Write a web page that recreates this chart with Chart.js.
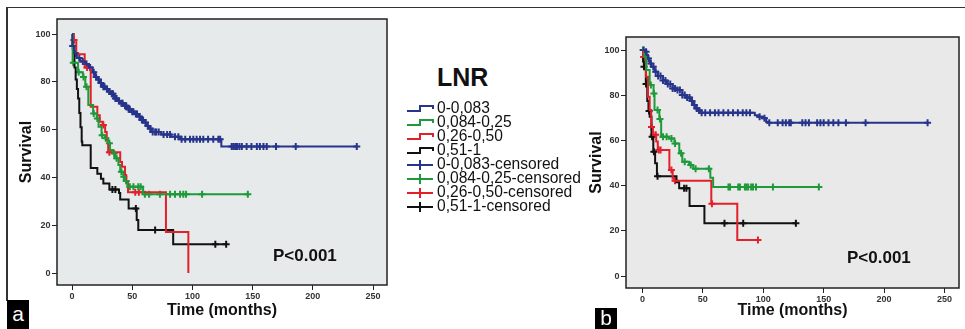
<!DOCTYPE html>
<html>
<head>
<meta charset="utf-8">
<script src="https://cdn.jsdelivr.net/npm/chart.js@4.4.1/dist/chart.umd.min.js"></script>
<style>
  body { margin: 0; background: #fff; }
  #wrap { position: relative; width: 965px; height: 329px; overflow: hidden; font-family: 'Liberation Sans', Arial, sans-serif; }
  canvas { position: absolute; top: 0; }
  .rule { position: absolute; background: #333; }
  .pval { position: absolute; font-weight: bold; font-size: 17px; color: #111; line-height: 20px; }
  .tag { position: absolute; background: #000; color: #fff; font-size: 21px; text-align: center; }
  #legend { position: absolute; left: 407px; top: 63px; color: #111; }
  #legend .ttl { font-weight: bold; font-size: 25px; line-height: 28px; margin-left: 30px; margin-bottom: 10px; }
  #legend .row { height: 14px; line-height: 14px; font-size: 15.6px; white-space: nowrap; }
  #legend .row canvas { position: static; vertical-align: middle; margin-right: 2px; }
</style>
</head>
<body>
<div id="wrap">
  <div class="rule" style="left:6px;top:6.5px;width:959px;height:1.5px"></div>
  <div class="rule" style="left:6px;top:6.5px;width:1.5px;height:294px"></div>
  <canvas id="chartA" width="395" height="329" style="left:0"></canvas>
  <canvas id="chartB" width="380" height="329" style="left:585px"></canvas>
  <div id="legend"><div class="ttl">LNR</div></div>
  <div class="pval" style="left:273px;top:246px">P&lt;0.001</div>
  <div class="pval" style="left:847px;top:248px">P&lt;0.001</div>
  <div class="tag" style="left:7px;top:300px;width:22px;height:29px;line-height:27px">a</div>
  <div class="tag" style="left:595px;top:308px;width:22px;height:21px;line-height:19px">b</div>
</div>
<script>
var xTicks = [0, 50, 100, 150, 200, 250];
var yTicks = [0, 20, 40, 60, 80, 100];
var groups = ['0-0,083', '0,084-0,25', '0,26-0,50', '0,51-1'];
var groupColors = ['#27348b', '#1f9a3b', '#e3202a', '#111111'];

// panel a: step points [months, survival]
var aBlue = [[0,100],[0.2,95],[2,92],[4,90],[7,88.5],[11,87.5],[14,86],[17,84],[19,82],[21,81],[23,79.5],[25,78],[28,77],[30,76],[32,75],[35,73],[38,72],[40,71],[43,70],[46,68.5],[49,67.5],[52,66.5],[55,65.5],[57,64],[60,63],[62,61.5],[64,60.5],[66,59],[74,58],[82,57],[90,56],[124,53],[237,53]];
var aGreen = [[0,100],[0.5,88],[5,84],[9,82],[11,78],[13.5,70.3],[17.5,66.8],[20.5,64.7],[22,61.2],[24.5,57.7],[27.5,56.4],[30,54.3],[31.5,51.5],[34.3,50],[35.7,48],[38.5,45.2],[40,42.4],[42.6,40.3],[44,38.5],[46,36.1],[59,33],[146.5,33]];
var aRed = [[0,100],[1.5,97.5],[3.5,91.5],[10.5,86],[15.5,69.6],[21,66],[23,63.3],[25.5,61.9],[27.5,59],[28.8,55.6],[30,50.5],[40,46.5],[41.5,44.5],[44,41],[45,38],[46.5,33.8],[78,17.2],[96.6,0]];
var aBlack = [[0,100],[1,92],[2,86],[3,81],[4,77],[5,73],[6,67],[7,61],[8,55],[8.5,53.5],[15.5,44],[21,41.5],[24,39.5],[26,37.5],[31,35],[39,33.5],[40,30.8],[47,27],[53.7,22.2],[55,18],[84,12],[128.5,12]];
// panel a: censored times
var aBlueCens = [0.5,3,6,9,12,15,18,20,22,24,26,27,29,31,33,34,36,37,39,41,42,44,45,47,48,50,51,53,54,56,58,59,61,63,65,67,69,70,72,76,79,81.4,85.5,88.3,91,94,98,100.7,103.5,106.3,109,113,117.3,121.5,123,132.6,134,135.5,137,139,141,145,149,153.5,156,159,161.7,169.4,185.8,236.5];
var aGreenCens = [1,5.5,9.5,12,18,21,25,28,31,35,37,41,43,45,48,51,55,57,60.5,64,73,81.4,85.5,89.7,92.4,94.7,108,146];
var aRedCens = [1.5,12.5,26,31,52.5,55.5];
var aBlackCens = [33.5,36,53,69,119,128];

// panel b: step points [months, survival]
var bBlue = [[0,100],[2,99.3],[3.5,97.8],[4.6,96.3],[6,94.1],[7.3,92.6],[10,90.4],[13,88.5],[16.8,86.5],[20,85],[25,83],[28,82.3],[33,80.1],[36,79],[40,77.5],[42.6,75.7],[44,74.2],[46.7,73.3],[48,72.3],[93,71.2],[95.6,70.5],[99.7,69.8],[102.4,68.3],[104,67.8],[236,67.8]];
var bGreen = [[0,100],[1.5,97],[3.2,91.2],[6,84.5],[9.2,80.8],[10,73.5],[14,69.5],[15.5,61.6],[22,60.9],[26.5,58.7],[30.5,54.3],[33,50.6],[38.6,49.1],[42,47.5],[56.2,43.5],[58.5,39.4],[146,39.4]];
var bRed = [[0,100],[0.5,97],[3,88.2],[4.6,79.3],[6,73.5],[7.3,66],[8.7,62.5],[11.4,59.5],[12.7,55.8],[22.3,46.9],[25,43.2],[26.3,42.2],[57,32],[78.5,16],[95.6,16]];
var bBlack = [[0,100],[0.5,95],[1.2,92.6],[2.8,85],[4,77.5],[5,73],[6,70.5],[7.5,61.6],[9,55],[10.5,49.9],[12,44.2],[28.2,41.5],[30.4,38.8],[39,31],[51.3,23.4],[127,23.4]];
// panel b: censored times
var bBlueCens = [1,3,5,7,9,11,13,15,17,19,21,23,25,27,29,31,33,35,37,39,41,43,45,47,49,52,56,60,63,67,71,75,79,83,86,89,97,101,105,112,116,118.7,121.5,122.8,132.3,135,137.8,144.6,147.3,150,154,158,162.2,168.4,184.7,236];
var bGreenCens = [0.5,2.5,7,9.5,12.5,14.5,17,20,24,27,32,35,40,44,55,71.2,72.5,79.3,80.7,84.8,86,87.5,90,91.5,94,108,146];
var bRedCens = [1,2,7.5,9,11,13.5,15,24,27,57.5,95.6];
var bBlackCens = [1.3,3,5.5,8,9.5,12.5,34.5,36.4,67.9,83.4,127];

var font = "'Liberation Sans', Arial, sans-serif";

function survAt(steps, t) {
    var s = steps[0][1];
    for (var i = 0; i < steps.length; i++) {
        if (steps[i][0] <= t) s = steps[i][1];
    }
    return s;
}

var plotBox = {
    id: 'plotBox',
    beforeDraw: function (chart, args, opts) {
        var a = chart.chartArea, ctx = chart.ctx;
        ctx.save();
        ctx.fillStyle = opts.bg;
        ctx.fillRect(a.left, a.top, a.right - a.left, a.bottom - a.top);
        ctx.restore();
    },
    afterDraw: function (chart) {
        var a = chart.chartArea, ctx = chart.ctx;
        ctx.save();
        ctx.strokeStyle = '#222';
        ctx.lineWidth = 1.5;
        ctx.strokeRect(a.left, a.top, a.right - a.left, a.bottom - a.top);
        ctx.restore();
    }
};

function makeChart(id, steps, cens, cfg) {
    var datasets = [];
    steps.forEach(function (st, g) {
        datasets.push({
            data: st.map(function (p) { return { x: p[0], y: p[1] }; }),
            borderColor: groupColors[g],
            borderWidth: 2,
            stepped: true,
            pointRadius: 0,
            fill: false
        });
    });
    cens.forEach(function (times, g) {
        datasets.push({
            data: times.map(function (t) { return { x: t, y: survAt(steps[g], t) }; }),
            showLine: false,
            pointStyle: 'cross',
            pointRadius: 3.5,
            pointBorderWidth: 2,
            pointBorderColor: groupColors[g],
            borderColor: groupColors[g]
        });
    });

    var tickFont = { family: font, size: 9, weight: 'bold' };
    var titleFont = { family: font, size: 16, weight: 'bold' };

    return new Chart(document.getElementById(id), {
        type: 'line',
        data: { datasets: datasets },
        plugins: [plotBox],
        options: {
            responsive: false,
            animation: false,
            devicePixelRatio: 1,
            layout: { padding: cfg.padding },
            plugins: {
                legend: { display: false },
                tooltip: { enabled: false },
                plotBox: { bg: cfg.bg }
            },
            scales: {
                x: {
                    type: 'linear',
                    min: cfg.xMin, max: cfg.xMax,
                    afterBuildTicks: function (s) { s.ticks = xTicks.map(function (v) { return { value: v }; }); },
                    afterFit: function (s) { s.height = cfg.xAxisH; },
                    grid: { drawOnChartArea: false, drawTicks: true, tickLength: 5, color: '#222' },
                    border: { display: false },
                    ticks: { font: tickFont, color: '#333', padding: 1, maxRotation: 0, autoSkip: false },
                    title: { display: true, text: 'Time (months)', font: titleFont, color: '#111', padding: { top: 0, bottom: 8.4 } }
                },
                y: {
                    min: cfg.yMin, max: cfg.yMax,
                    afterBuildTicks: function (s) { s.ticks = yTicks.map(function (v) { return { value: v }; }); },
                    afterFit: function (s) { s.width = cfg.yAxisW; },
                    grid: { drawOnChartArea: false, drawTicks: true, tickLength: 5, color: '#222' },
                    border: { display: false },
                    ticks: { font: tickFont, color: '#333', padding: 1.5, autoSkip: false },
                    title: { display: true, text: 'Survival', font: titleFont, color: '#111', padding: { top: cfg.yTitlePad, bottom: 0 } }
                }
            }
        }
    });
}

makeChart('chartA', [aBlue, aGreen, aRed, aBlack], [aBlueCens, aGreenCens, aRedCens, aBlackCens], {
    bg: '#e6eaeb', padding: { top: 19, right: 8, left: 0, bottom: 0 },
    xMin: -12.5, xMax: 261.6, yMin: -5, yMax: 106.3,
    xAxisH: 44, yAxisW: 57, yTitlePad: 17
});

makeChart('chartB', [bBlue, bGreen, bRed, bBlack], [bBlueCens, bGreenCens, bRedCens, bBlackCens], {
    bg: '#e9e9e9', padding: { top: 37, right: 1, left: 0, bottom: 0 },
    xMin: -13.6, xMax: 262, yMin: -5.3, yMax: 105.8,
    xAxisH: 41, yAxisW: 41, yTitlePad: 2.4
});

// legend between the panels
var legend = document.getElementById('legend');
function legendIcon(color, censored) {
    var c = document.createElement('canvas');
    c.width = 28; c.height = 12;
    var ctx = c.getContext('2d');
    ctx.strokeStyle = color;
    ctx.lineWidth = 2;
    ctx.beginPath();
    if (censored) {
        ctx.moveTo(0, 6); ctx.lineTo(26, 6);
        ctx.moveTo(13, 1); ctx.lineTo(13, 11);
    } else {
        ctx.moveTo(0, 8); ctx.lineTo(13, 8); ctx.lineTo(13, 3); ctx.lineTo(26, 3); ctx.lineTo(26, 6);
    }
    ctx.stroke();
    return c;
}
[false, true].forEach(function (censored) {
    groups.forEach(function (name, g) {
        var row = document.createElement('div');
        row.className = 'row';
        row.appendChild(legendIcon(groupColors[g], censored));
        row.appendChild(document.createTextNode(censored ? name + '-censored' : name));
        legend.appendChild(row);
    });
});
</script>
</body>
</html>
